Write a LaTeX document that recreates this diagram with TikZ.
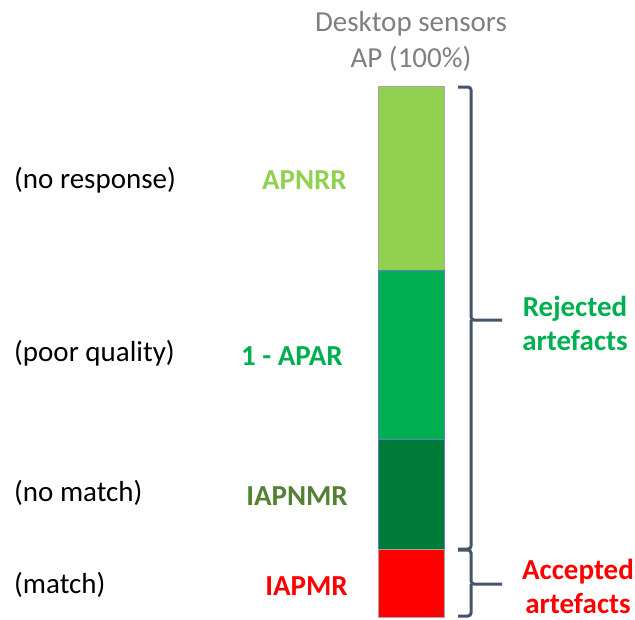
\documentclass[tikz,border=0pt]{standalone}
\usepackage{fontspec}
\setmainfont{Carlito}
\definecolor{lgreen}{HTML}{92D050}
\definecolor{mgreen}{HTML}{00B050}
\definecolor{dgreen}{HTML}{007A37}
\definecolor{olive}{HTML}{548235}
\definecolor{bracecol}{HTML}{44546A}
\definecolor{titlegrey}{HTML}{7F7F7F}
\definecolor{edgegrey}{HTML}{A6A6A6}
\definecolor{edgeblue}{HTML}{5B7FC8}
\tikzset{
  seg/.style={draw=#1, line width=1pt, inner sep=0pt, minimum width=66pt, anchor=north},
  sidelabel/.style={font=\fontsize{29}{35}\selectfont, anchor=west, inner sep=0pt, text=black},
  ratelabel/.style={font=\fontsize{29}{35}\selectfont\bfseries, anchor=east, inner sep=0pt},
  grouplabel/.style={font=\fontsize{29}{34}\selectfont\bfseries, align=center, inner sep=0pt},
  brace/.style={draw=bracecol, line width=3pt, rounded corners=3pt}
}
\begin{document}
\begin{tikzpicture}[x=1pt, y=-1pt]
  \useasboundingbox (0,0) rectangle (635,619);

  % title
  \node[font=\fontsize{29}{36}\selectfont, text=titlegrey, align=center, inner sep=0pt]
    (title) at (411,41) {Desktop sensors\\AP (100\%)};

  % stacked bar
  \node[seg=edgegrey, fill=lgreen, minimum height=184pt] (apnrr) at (411,86) {};
  \node[seg=edgeblue, fill=mgreen, minimum height=169pt] (apar) at (411,270) {};
  \node[seg=edgeblue, fill=dgreen, minimum height=110pt] (apnmr) at (411,439) {};
  \node[seg=edgegrey, fill=red, minimum height=68pt] (apmr) at (411,549) {};

  % outcome labels
  \node[sidelabel] (noresp) at (14,180) {(no response)};
  \node[sidelabel] (poor) at (14,353) {(poor quality)};
  \node[sidelabel] (nomatch) at (14,493) {(no match)};
  \node[sidelabel] (match) at (14,585) {(match)};

  % rate labels
  \node[ratelabel, text=lgreen] (lapnrr) at (347,180) {APNRR};
  \node[ratelabel, text=mgreen] (lapar) at (343,356) {1 - APAR};
  \node[ratelabel, text=olive] (lapnmr) at (348,496) {IAPNMR};
  \node[ratelabel, text=red] (lapmr) at (348,586) {IAPMR};

  % braces
  \coordinate (rtop) at (458,87);
  \coordinate (rtip) at (502,320);
  \coordinate (rbot) at (458,549);
  \coordinate (atop) at (458,550);
  \coordinate (atip) at (502,584);
  \coordinate (abot) at (458,616);
  \draw[brace] (rtop) -- (471,87) -- (471,320) -- (rtip);
  \draw[brace] (471,320) -- (471,549) -- (rbot);
  \draw[brace] (atop) -- (471,550) -- (471,584) -- (atip);
  \draw[brace] (471,584) -- (471,616) -- (abot);

  % group labels
  \node[grouplabel, text=mgreen] (rej) at (575,323) {Rejected\\artefacts};
  \node[grouplabel, text=red] (acc) at (578,586) {Accepted\\artefacts};
\end{tikzpicture}
\end{document}
